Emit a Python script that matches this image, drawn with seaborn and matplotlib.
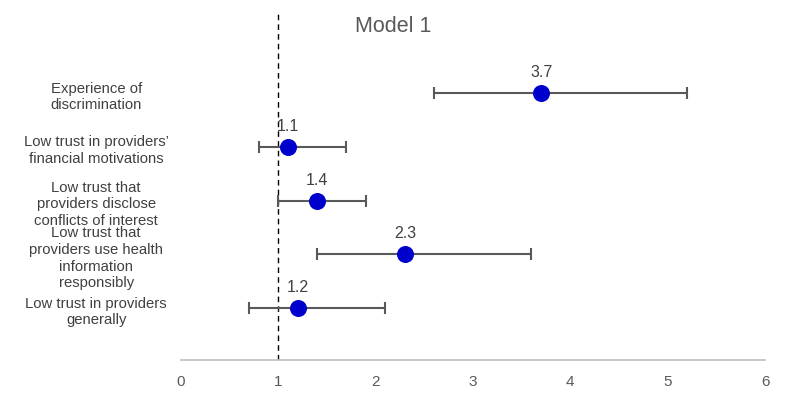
import matplotlib
matplotlib.use("Agg")
import matplotlib.pyplot as plt
import seaborn as sns
import numpy as np
import pandas as pd

categories = [
    "Experience of\ndiscrimination",
    "Low trust in providers’\nfinancial motivations",
    "Low trust that\nproviders disclose\nconflicts of interest",
    "Low trust that\nproviders use health\ninformation\nresponsibly",
    "Low trust in providers\ngenerally",
]
estimates = [3.7, 1.1, 1.4, 2.3, 1.2]
lower = [2.6, 0.8, 1.0, 1.4, 0.7]
upper = [5.2, 1.7, 1.9, 3.6, 2.1]
value_labels = ["3.7", "1.1", "1.4", "2.3", "1.2"]
x_ticks = [0, 1, 2, 3, 4, 5, 6]

sns.set_theme(style="white")
plt.rcParams['font.family'] = ['Liberation Sans', 'DejaVu Sans']

df = pd.DataFrame({"cat": categories, "est": estimates, "lo": lower, "hi": upper,
                   "pos": np.arange(len(categories))})

fig = plt.figure(figsize=(7.87, 4.06), dpi=100)
ax = fig.add_axes([181/787, 1-361/406, (765-181)/787, (361-12)/406])

ax.errorbar(df["est"], df["pos"],
            xerr=[df["est"] - df["lo"], df["hi"] - df["est"]],
            fmt="none", ecolor="#595959", elinewidth=1.5, capsize=4, capthick=1.5, zorder=2)
sns.scatterplot(data=df, x="est", y="pos", ax=ax, color="#0000CC", s=150,
                edgecolor="#0000CC", linewidth=0, zorder=3, legend=False)

for x, y, t in zip(df["est"], df["pos"], value_labels):
    ax.annotate(t, (x, y), xytext=(0, 10), textcoords="offset points",
                ha="center", va="bottom", fontsize=11.5, color="#404040")

ax.axvline(1, color="black", lw=1, ls=(0, (4, 3)), zorder=1)

ax.set_xlim(0, 6)
ax.set_ylim(4.967, -1.526)
ax.set_xticks(x_ticks)
ax.set_xticklabels([str(v) for v in x_ticks], fontsize=11, color="#595959")
ax.set_yticks(df["pos"])
ax.set_yticklabels(categories, fontsize=10.7, color="#404040", ha="center", multialignment="center",
                   linespacing=1.25)
ax.tick_params(axis="y", length=0, pad=61)
ax.tick_params(axis="x", length=0, pad=10)
ax.set_xlabel("")
ax.set_ylabel("")
for s in ["top", "right", "left"]:
    ax.spines[s].set_visible(False)
ax.spines["bottom"].set_color("#BFBFBF")
ax.spines["bottom"].set_linewidth(1.2)

fig.text(393/787, 1-27/406, "Model 1", ha="center", va="center", fontsize=15.5, color="#595959")

fig.savefig("out.png", dpi=100)
